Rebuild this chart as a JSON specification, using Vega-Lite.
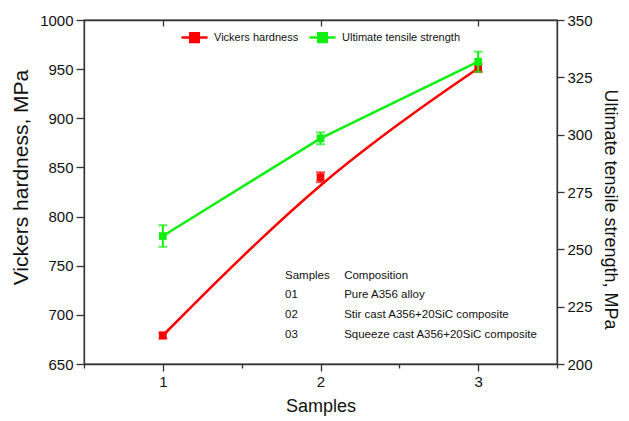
{
  "$schema": "https://vega.github.io/schema/vega-lite/v6.json",
  "width": 473,
  "height": 344,
  "autosize": {"type": "none"},
  "padding": {"left": 84, "top": 20, "right": 72, "bottom": 57},
  "background": "white",
  "config": {
    "view": {"stroke": "#333333", "strokeWidth": 1.3},
    "font": "Liberation Sans",
    "axis": {
      "domainColor": "#333333",
      "tickColor": "#333333",
      "labelColor": "#111111",
      "titleColor": "#111111",
      "labelFont": "Liberation Sans",
      "titleFont": "Liberation Sans",
      "titleFontWeight": "normal",
      "grid": false,
      "domainWidth": 1.3,
      "tickWidth": 1.3,
      "labelFontSize": 15,
      "labelPadding": 3,
      "labelOverlap": false
    }
  },
  "datasets": {
    "hv": [
      {"sample": 1, "hv": 679, "lo": 676, "hi": 682},
      {"sample": 2, "hv": 840, "lo": 835, "hi": 845},
      {"sample": 3, "hv": 951, "lo": 947, "hi": 955}
    ],
    "uts": [
      {"sample": 1, "uts": 255.8, "lo": 251.1, "hi": 260.5},
      {"sample": 2, "uts": 298.4, "lo": 295.8, "hi": 301.0},
      {"sample": 3, "uts": 331.8, "lo": 327.4, "hi": 336.2}
    ],
    "table": [
      {"hv": 740, "sample": "Samples", "composition": "Composition"},
      {"hv": 720, "sample": "01", "composition": "Pure A356 alloy"},
      {"hv": 700, "sample": "02", "composition": "Stir cast A356+20SiC composite"},
      {"hv": 680, "sample": "03", "composition": "Squeeze cast A356+20SiC composite"}
    ]
  },
  "layer": [
    {
      "layer": [
        {
          "data": {"name": "hv"},
          "mark": {"type": "line", "interpolate": "basis", "strokeWidth": 2.5},
          "encoding": {
            "x": {
              "field": "sample", "type": "quantitative",
              "title": "Samples",
              "scale": {"domain": [0.5, 3.5], "nice": false, "zero": false},
              "axis": {
                "orient": "bottom",
                "titleFontSize": 18,
                "titlePadding": 8,
                "values": [0.5, 1, 1.5, 2, 2.5, 3, 3.5],
                "labelExpr": "datum.value % 1 === 0 ? '' + datum.value : ''",
                "tickSize": {"condition": {"test": "datum.value % 1 === 0", "value": 7}, "value": 4},
                "labelFlush": false
              }
            },
            "y": {
              "field": "hv", "type": "quantitative",
              "title": "Vickers hardness, MPa",
              "scale": {"domain": [650, 1000], "nice": false, "zero": false},
              "axis": {
                "orient": "left",
                "titleFontSize": 21,
                "titlePadding": 8,
                "titleY": 157,
                "format": "d",
                "values": [650, 675, 700, 725, 750, 775, 800, 825, 850, 875, 900, 925, 950, 975, 1000],
                "labelExpr": "datum.value % 50 === 0 ? datum.label : ''",
                "tickSize": {"condition": {"test": "datum.value % 50 === 0", "value": 8}, "value": 4},
                "labelFlush": false
              }
            },
            "color": {
              "datum": "Vickers hardness", "type": "nominal",
              "scale": {"domain": ["Vickers hardness", "Ultimate tensile strength"], "range": ["#ff0000", "#11ee11"]},
              "legend": {
                "orient": "none",
                "legendX": 96,
                "legendY": 3,
                "direction": "horizontal",
                "title": null,
                "symbolType": "M-1,0H1M-0.33,-0.33H0.33V0.33H-0.33Z",
                "symbolSize": 676,
                "symbolStrokeWidth": 2.5,
                "labelFontSize": 11,
                "labelFont": "Liberation Sans",
                "labelColor": "#111111",
                "labelOffset": 5,
                "columnPadding": 5,
                "encode": {"symbols": {"update": {"fill": {"scale": "color", "field": "value"}}}}
              }
            }
          }
        },
        {
          "data": {"name": "hv"},
          "mark": {"type": "errorbar", "color": "#ff0000", "thickness": 2, "ticks": {"size": 9, "thickness": 2}},
          "encoding": {
            "x": {"field": "sample", "type": "quantitative", "title": "Samples"},
            "y": {"field": "lo", "type": "quantitative", "title": "Vickers hardness, MPa"},
            "y2": {"field": "hi"}
          }
        },
        {
          "data": {"name": "hv"},
          "mark": {"type": "square", "color": "#ff0000", "filled": true, "opacity": 1, "size": 60},
          "encoding": {
            "x": {"field": "sample", "type": "quantitative", "title": "Samples"},
            "y": {"field": "hv", "type": "quantitative", "title": "Vickers hardness, MPa"}
          }
        },
        {
          "data": {"name": "table"},
          "mark": {"type": "text", "align": "left", "baseline": "middle", "fontSize": 11.5, "font": "Liberation Sans", "color": "#111111"},
          "encoding": {
            "x": {"datum": 1.775, "type": "quantitative", "title": "Samples"},
            "y": {"field": "hv", "type": "quantitative", "title": "Vickers hardness, MPa"},
            "text": {"field": "sample"}
          }
        },
        {
          "data": {"name": "table"},
          "mark": {"type": "text", "align": "left", "baseline": "middle", "fontSize": 11.5, "font": "Liberation Sans", "color": "#111111"},
          "encoding": {
            "x": {"datum": 2.15, "type": "quantitative", "title": "Samples"},
            "y": {"field": "hv", "type": "quantitative", "title": "Vickers hardness, MPa"},
            "text": {"field": "composition"}
          }
        }
      ]
    },
    {
      "data": {"name": "uts"},
      "layer": [
        {
          "mark": {"type": "line", "strokeWidth": 2.5},
          "encoding": {
            "x": {
              "field": "sample", "type": "quantitative",
              "title": null,
              "scale": {"domain": [0.5, 3.5], "nice": false, "zero": false},
              "axis": {
                "orient": "top",
                "labels": false,
                "values": [1, 2, 3],
                "tickSize": -6
              }
            },
            "y": {
              "field": "uts", "type": "quantitative",
              "title": "Ultimate tensile strength, MPa",
              "scale": {"domain": [200, 350], "nice": false, "zero": false},
              "axis": {
                "orient": "right",
                "titleFontSize": 18,
                "titlePadding": 8,
                "titleY": 189,
                "format": "d",
                "values": [200, 212.5, 225, 237.5, 250, 262.5, 275, 287.5, 300, 312.5, 325, 337.5, 350],
                "labelExpr": "datum.value % 25 === 0 ? datum.label : ''",
                "tickSize": {"condition": {"test": "datum.value % 25 === 0", "value": 7}, "value": 4},
                "labelFlush": false
              }
            },
            "color": {"datum": "Ultimate tensile strength", "type": "nominal"}
          }
        },
        {
          "mark": {"type": "errorbar", "color": "#11ee11", "thickness": 2, "ticks": {"size": 9, "thickness": 2}},
          "encoding": {
            "x": {"field": "sample", "type": "quantitative", "title": null},
            "y": {"field": "lo", "type": "quantitative", "title": "Ultimate tensile strength, MPa"},
            "y2": {"field": "hi"}
          }
        },
        {
          "mark": {"type": "square", "color": "#11ee11", "filled": true, "opacity": 1, "size": 60},
          "encoding": {
            "x": {"field": "sample", "type": "quantitative", "title": null},
            "y": {"field": "uts", "type": "quantitative", "title": "Ultimate tensile strength, MPa"}
          }
        }
      ]
    }
  ],
  "resolve": {"scale": {"x": "independent", "y": "independent"}}
}
